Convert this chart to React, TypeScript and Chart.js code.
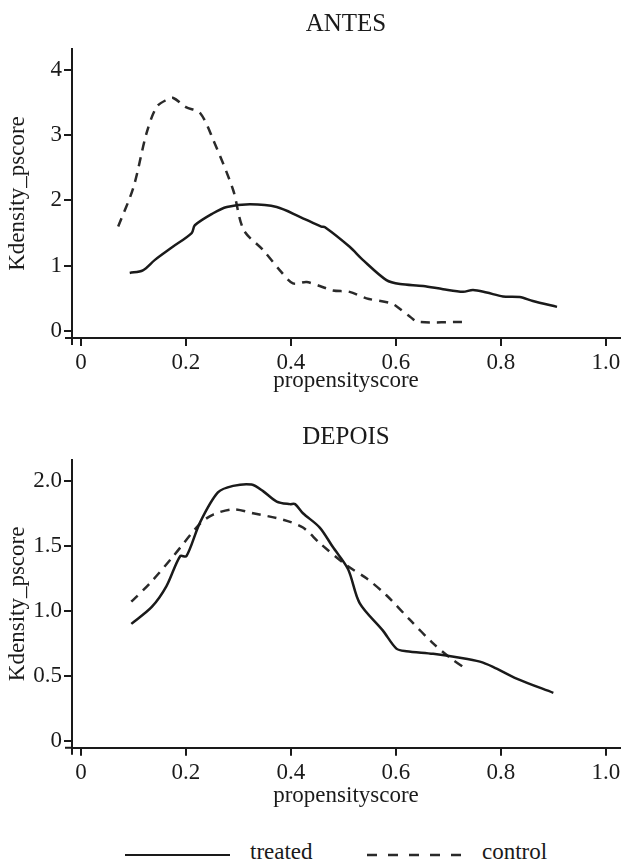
import React, { useEffect, useRef } from "react";
import { Chart, registerables } from "chart.js";

Chart.register(...registerables);

// ANTES (before matching)
const antesTreatedX = [0.093, 0.118, 0.141, 0.175, 0.211, 0.217, 0.251, 0.278, 0.322, 0.373, 0.417, 0.458, 0.465, 0.512, 0.537, 0.582, 0.608, 0.652, 0.69, 0.728, 0.747, 0.773, 0.804, 0.836, 0.861, 0.907];
const antesTreatedY = [0.89, 0.93, 1.09, 1.29, 1.5, 1.62, 1.8, 1.9, 1.94, 1.9, 1.75, 1.6, 1.59, 1.29, 1.09, 0.78, 0.72, 0.69, 0.64, 0.6, 0.63, 0.59, 0.53, 0.52, 0.46, 0.37];
const antesControlX = [0.071, 0.1, 0.125, 0.144, 0.163, 0.176, 0.2, 0.227, 0.252, 0.29, 0.31, 0.347, 0.379, 0.404, 0.43, 0.455, 0.48, 0.512, 0.544, 0.589, 0.601, 0.627, 0.642, 0.728];
const antesControlY = [1.6, 2.2, 3.03, 3.43, 3.54, 3.57, 3.43, 3.34, 2.93, 2.16, 1.55, 1.24, 0.93, 0.73, 0.75, 0.69, 0.62, 0.6, 0.5, 0.43, 0.38, 0.22, 0.14, 0.14];

// DEPOIS (after matching)
const depoisTreatedX = [0.096, 0.135, 0.163, 0.189, 0.201, 0.227, 0.261, 0.29, 0.325, 0.347, 0.373, 0.398, 0.408, 0.423, 0.455, 0.48, 0.509, 0.531, 0.575, 0.601, 0.62, 0.671, 0.722, 0.76, 0.785, 0.83, 0.9];
const depoisTreatedY = [0.9, 1.03, 1.19, 1.42, 1.42, 1.68, 1.91, 1.96, 1.97, 1.92, 1.84, 1.82, 1.82, 1.75, 1.64, 1.49, 1.32, 1.06, 0.85, 0.71, 0.69, 0.67, 0.64, 0.61, 0.57, 0.48, 0.37];
const depoisControlX = [0.096, 0.131, 0.176, 0.227, 0.252, 0.29, 0.328, 0.385, 0.423, 0.455, 0.506, 0.544, 0.582, 0.627, 0.671, 0.703, 0.735];
const depoisControlY = [1.07, 1.21, 1.42, 1.67, 1.74, 1.78, 1.75, 1.7, 1.64, 1.52, 1.35, 1.25, 1.12, 0.93, 0.75, 0.64, 0.55];

const xTicks = [0, 0.2, 0.4, 0.6, 0.8, 1.0];
const xTickLabels = ["0", "0.2", "0.4", "0.6", "0.8", "1.0"];
const antesYTicks = [0, 1, 2, 3, 4];
const antesYTickLabels = ["0", "1", "2", "3", "4"];
const depoisYTicks = [0, 0.5, 1, 1.5, 2];
const depoisYTickLabels = ["0", "0.5", "1.0", "1.5", "2.0"];

const seriesNames = ["treated", "control"];

const FONT = "'Liberation Serif', 'DejaVu Serif', serif";
const INK = "#1a1a1a";

function pts(xs: number[], ys: number[]) {
  return xs.map((x, i) => ({ x, y: ys[i] }));
}

const overhang = {
  id: "overhang",
  afterDraw(chart: any) {
    const { ctx, chartArea } = chart;
    ctx.save();
    ctx.strokeStyle = INK;
    ctx.lineWidth = 2;
    ctx.beginPath();
    ctx.moveTo(chartArea.left - 7, chartArea.bottom);
    ctx.lineTo(chartArea.left, chartArea.bottom);
    ctx.moveTo(chartArea.left, chartArea.bottom);
    ctx.lineTo(chartArea.left, chartArea.bottom + 7);
    ctx.stroke();
    ctx.restore();
  },
};

type PanelProps = {
  title: string;
  treated: { x: number; y: number }[];
  control: { x: number; y: number }[];
  yMin: number;
  yMax: number;
  yTicks: number[];
  yTickLabels: string[];
  titlePad: { top: number; bottom: number };
  xAxisHeight: number;
  xTitlePadBottom: number;
};

function Panel(p: PanelProps) {
  const ref = useRef<HTMLCanvasElement | null>(null);
  useEffect(() => {
    if (!ref.current) return;
    const chart = new Chart(ref.current, {
      type: "scatter",
      data: {
        datasets: [
          {
            label: seriesNames[0],
            data: p.treated,
            showLine: true,
            borderColor: INK,
            borderWidth: 2.5,
            pointRadius: 0,
            tension: 0.3,
            fill: false,
          },
          {
            label: seriesNames[1],
            data: p.control,
            showLine: true,
            borderColor: "#2a2a2a",
            borderWidth: 2.5,
            borderDash: [9, 7],
            pointRadius: 0,
            tension: 0.3,
            fill: false,
          },
        ],
      },
      options: {
        animation: false,
        responsive: false,
        layout: { padding: { left: 0, right: 8, top: 0, bottom: 0 } },
        plugins: {
          legend: { display: false },
          tooltip: { enabled: false },
          title: {
            display: true,
            text: p.title,
            color: INK,
            fullSize: false,
            font: { family: FONT, size: 25, weight: "normal" },
            padding: p.titlePad,
          },
        },
        scales: {
          x: {
            type: "linear",
            min: -0.017,
            max: 1.027,
            afterBuildTicks: (s: any) => {
              s.ticks = xTicks.map((v) => ({ value: v }));
            },
            afterFit: (s: any) => {
              s.height = p.xAxisHeight;
            },
            ticks: {
              color: INK,
              padding: 3,
              maxRotation: 0,
              font: { family: FONT, size: 23 },
              callback: (v: any) => {
                const i = xTicks.findIndex((t) => Math.abs(t - v) < 1e-9);
                return i >= 0 ? xTickLabels[i] : "";
              },
            },
            grid: { drawOnChartArea: false, drawTicks: true, tickLength: 8, color: INK, lineWidth: 2 },
            border: { display: true, color: INK, width: 2 },
            title: {
              display: true,
              text: "propensityscore",
              color: INK,
              font: { family: FONT, size: 23 },
              padding: { top: 0, bottom: p.xTitlePadBottom },
            },
          },
          y: {
            type: "linear",
            min: p.yMin,
            max: p.yMax,
            afterBuildTicks: (s: any) => {
              s.ticks = p.yTicks.map((v) => ({ value: v }));
            },
            afterFit: (s: any) => {
              s.width = 72;
            },
            ticks: {
              color: INK,
              padding: 2,
              font: { family: FONT, size: 23 },
              callback: (v: any) => {
                const i = p.yTicks.findIndex((t) => Math.abs(t - v) < 1e-9);
                return i >= 0 ? p.yTickLabels[i] : "";
              },
            },
            grid: { drawOnChartArea: false, drawTicks: true, tickLength: 8, color: INK, lineWidth: 2 },
            border: { display: true, color: INK, width: 2 },
            title: {
              display: true,
              text: "Kdensity_pscore",
              color: INK,
              font: { family: FONT, size: 23 },
              padding: { top: 4, bottom: 0 },
            },
          },
        },
      },
      plugins: [overhang],
    } as any);
    return () => chart.destroy();
  }, []);
  return <canvas ref={ref} width={628} height={400} style={{ display: "block", width: 628, height: 400 }} />;
}

export default function App() {
  return (
    <div style={{ position: "absolute", left: 0, top: 0, width: 628, height: 864, background: "#fff", fontFamily: FONT, color: INK }}>
      <div style={{ position: "absolute", left: 0, top: 0 }}>
        <Panel
          title="ANTES"
          treated={pts(antesTreatedX, antesTreatedY)}
          control={pts(antesControlX, antesControlY)}
          yMin={-0.107}
          yMax={4.32}
          yTicks={antesYTicks}
          yTickLabels={antesYTickLabels}
          titlePad={{ top: 9, bottom: 10 }}
          xAxisHeight={62}
          xTitlePadBottom={5}
        />
      </div>
      <div style={{ position: "absolute", left: 0, top: 411 }}>
        <Panel
          title="DEPOIS"
          treated={pts(depoisTreatedX, depoisTreatedY)}
          control={pts(depoisControlX, depoisControlY)}
          yMin={-0.0515}
          yMax={2.159}
          yTicks={depoisYTicks}
          yTickLabels={depoisYTickLabels}
          titlePad={{ top: 11.5, bottom: 7.5 }}
          xAxisHeight={63.3}
          xTitlePadBottom={1}
        />
      </div>
      <div style={{ position: "absolute", left: 125, top: 854, width: 105, height: 0, borderTop: `2.5px solid ${INK}` }} />
      <div style={{ position: "absolute", left: 250, top: 838, fontSize: 23, lineHeight: "28px" }}>{seriesNames[0]}</div>
      <svg style={{ position: "absolute", left: 367, top: 851 }} width={96} height={8}>
        <line x1={0} y1={4} x2={96} y2={4} stroke="#2a2a2a" strokeWidth={2.5} strokeDasharray="10 11" />
      </svg>
      <div style={{ position: "absolute", left: 482, top: 838, fontSize: 23, lineHeight: "28px" }}>{seriesNames[1]}</div>
    </div>
  );
}
